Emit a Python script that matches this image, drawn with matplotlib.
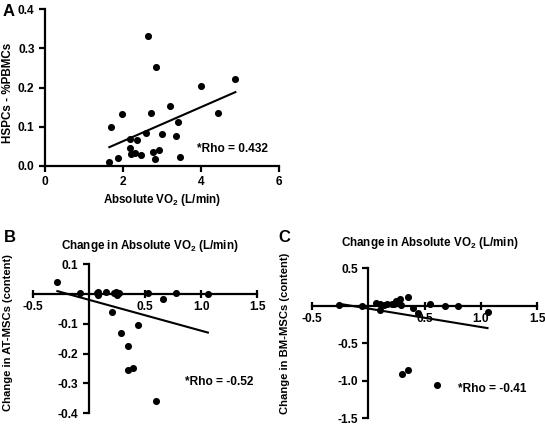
import numpy as np
import matplotlib
matplotlib.use("Agg")
import matplotlib.pyplot as plt

plt.rcParams['font.family'] = ['Liberation Sans', 'DejaVu Sans']
plt.rcParams['font.weight'] = 'bold'
plt.rcParams['mathtext.fontset'] = 'custom'
plt.rcParams['mathtext.bf'] = 'Liberation Sans:bold'
plt.rcParams['mathtext.rm'] = 'Liberation Sans:bold'

# Panel A: absolute VO2 vs HSPCs
vo2_a = [1.65, 1.70, 1.87, 1.98, 2.18, 2.18, 2.20, 2.30, 2.37, 2.47, 2.60, 2.63,
         2.73, 2.78, 2.81, 2.85, 2.93, 3.01, 3.21, 3.37, 3.42, 3.45, 3.99, 4.43, 4.88]
hspc_a = [0.009, 0.099, 0.021, 0.133, 0.070, 0.047, 0.030, 0.033, 0.066, 0.028, 0.083, 0.331,
          0.135, 0.036, 0.018, 0.252, 0.040, 0.082, 0.152, 0.077, 0.112, 0.024, 0.205, 0.134, 0.221]
fit_a = (0.0434, -0.0236)  # slope, intercept

# Panel B: change in VO2 vs change in AT-MSCs
dvo2_b = [-0.28, -0.08, 0.07, 0.08, 0.08, 0.15, 0.22, 0.24, 0.25, 0.27, 0.21, 0.29,
          0.345, 0.345, 0.395, 0.435, 0.53, 0.66, 0.78, 1.06, 0.60]
dat_b = [0.041, 0.003, 0.004, 0.008, -0.003, 0.008, 0.003, 0.008, -0.002, 0.004, -0.062, -0.132,
         -0.175, -0.256, -0.250, -0.105, 0.005, -0.015, 0.002, 0.001, -0.360]
fit_b = (-0.104, -0.0193)

# Panel C: change in VO2 vs change in BM-MSCs
dvo2_c = [-0.26, -0.06, 0.07, 0.10, 0.10, 0.17, 0.23, 0.25, 0.28, 0.29, 0.35, 0.40,
          0.44, 0.55, 0.68, 0.80, 1.06, 0.30, 0.356, 0.607, 0.14, 0.21]
dbm_c = [0.01, 0.0, 0.04, 0.03, -0.06, 0.03, 0.02, 0.06, 0.09, 0.01, 0.12, -0.03,
         -0.10, 0.03, 0.0, 0.0, -0.08, -0.91, -0.85, -1.06, 0.01, 0.02]
fit_c = (-0.246, -0.0366)

W, H = 545, 425
fig = plt.figure(figsize=(W / 100, H / 100), dpi=100)

fs = 8.6    # ticks and rho text
lfs = 8.4   # axis labels
dot = dict(s=26, color='black', zorder=3, clip_on=False, linewidths=0)


def fitline(ax, x, fit):
    xs = np.array([min(x), max(x)])
    ax.plot(xs, fit[0] * xs + fit[1], color='black', lw=1.5, zorder=2)


# ---- A ----
ax = fig.add_axes([45 / W, 1 - 166 / H, (279 - 45) / W, (166 - 9) / H])
ax.scatter(vo2_a, hspc_a, **dot)
fitline(ax, vo2_a, fit_a)
ax.set_xlim(0, 6)
ax.set_ylim(0, 0.4)
ax.set_xticks([0, 2, 4, 6])
ax.set_yticks([0, 0.1, 0.2, 0.3, 0.4])
ax.set_yticklabels(['0.0', '0.1', '0.2', '0.3', '0.4'])
for s in ['top', 'right']:
    ax.spines[s].set_visible(False)
for s in ['left', 'bottom']:
    ax.spines[s].set_linewidth(1.6)
ax.tick_params(labelsize=fs, width=1.6, length=4)
ax.text(3.9, 0.043, '*Rho = 0.432', fontsize=fs, va='center', ha='left')

# ---- B and C ----
def quad_axes(rect, x, y, fit, ylim, yticks, ylabels, rho, rho_xy):
    ax = fig.add_axes(rect)
    ax.scatter(x, y, **dot)
    fitline(ax, x, fit)
    ax.set_xlim(-0.5, 1.5)
    ax.set_ylim(*ylim)
    ax.spines['left'].set_position(('data', 0))
    ax.spines['bottom'].set_position(('data', 0))
    for s in ['top', 'right']:
        ax.spines[s].set_visible(False)
    for s in ['left', 'bottom']:
        ax.spines[s].set_linewidth(1.6)
    ax.set_xticks([-0.5, 0.5, 1.0, 1.5])
    ax.set_xticklabels(['-0.5', '0.5', '1.0', '1.5'])
    ax.set_yticks(yticks)
    ax.set_yticklabels(ylabels)
    ax.tick_params(axis='x', direction='inout', length=6, width=1.6, labelsize=fs, pad=2)
    ax.tick_params(axis='y', direction='out', length=4, width=1.6, labelsize=fs)
    ax.text(rho_xy[0], rho_xy[1], rho, fontsize=fs, va='center', ha='left')
    return ax


quad_axes([32.7 / W, 1 - 413 / H, (257.3 - 32.7) / W, (413 - 264.3) / H],
          dvo2_b, dat_b, fit_b, (-0.4, 0.1),
          [0.1, -0.1, -0.2, -0.3, -0.4], ['0.1', '-0.1', '-0.2', '-0.3', '-0.4'],
          '*Rho = -0.52', (0.855, -0.296))

quad_axes([312 / W, 1 - 418.3 / H, (537 - 312) / W, (418.3 - 268.3) / H],
          dvo2_c, dbm_c, fit_c, (-1.5, 0.5),
          [0.5, -0.5, -1.0, -1.5], ['0.5', '-0.5', '-1.0', '-1.5'],
          '*Rho = -0.41', (0.80, -1.11))

# ---- labels ----
def ft(x, y, s, **kw):
    fig.text(x / W, 1 - y / H, s, **kw)


ft(8, 93, 'HSPCs - %PBMCs', rotation=90, ha='center', va='center', fontsize=lfs)
ft(162, 200, r'Absolute VO$_\mathbf{2}$ (L/min)', ha='center', va='center', fontsize=lfs)
ft(150, 246, r'Change in Absolute VO$_\mathbf{2}$ (L/min)', ha='center', va='center', fontsize=lfs)
ft(430, 243, r'Change in Absolute VO$_\mathbf{2}$ (L/min)', ha='center', va='center', fontsize=lfs)
ft(8, 333, 'Change in AT-MSCs (content)', rotation=90, ha='center', va='center', fontsize=8.1)
ft(285, 333, 'Change in BM-MSCs (content)', rotation=90, ha='center', va='center', fontsize=8.1)

ft(9, 12, 'A', ha='center', va='center', fontsize=12)
ft(10, 237, 'B', ha='center', va='center', fontsize=12)
ft(284, 237, 'C', ha='center', va='center', fontsize=12)

fig.savefig('out.png', dpi=100)
